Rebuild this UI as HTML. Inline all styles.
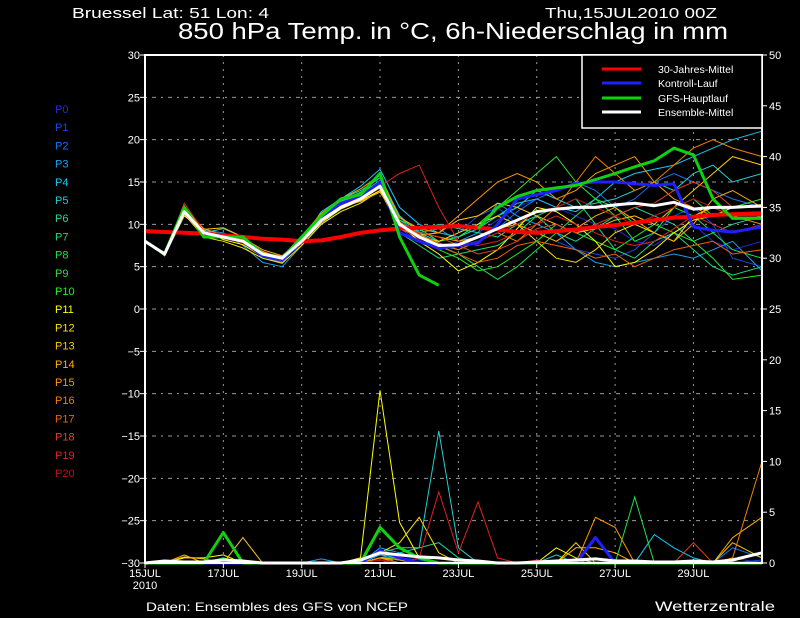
<!DOCTYPE html>
<html><head><meta charset="utf-8"><style>
html,body{margin:0;padding:0;background:#000;}
svg{display:block;font-family:"Liberation Sans",sans-serif;}
</style></head><body>
<svg id="chart" width="800" height="618" viewBox="0 0 800 618" xmlns="http://www.w3.org/2000/svg">
<rect x="0" y="0" width="800" height="618" fill="#000"/>
<text x="72" y="18" fill="#fff" font-size="15" textLength="197" lengthAdjust="spacingAndGlyphs">Bruessel  Lat: 51 Lon: 4</text>
<text x="545" y="18" fill="#fff" font-size="15" textLength="172" lengthAdjust="spacingAndGlyphs">Thu,15JUL2010 00Z</text>
<text x="178" y="39" fill="#fff" font-size="23" textLength="550" lengthAdjust="spacingAndGlyphs">850 hPa Temp. in °C, 6h-Niederschlag in mm</text>
<g id="grid"></g>
<g id="series"></g>
<g id="axes"></g>
<g id="legend"></g>
<g id="members"></g>
<text x="146" y="611" fill="#fff" font-size="12" textLength="262" lengthAdjust="spacingAndGlyphs">Daten: Ensembles des GFS von NCEP</text>
<text x="655" y="611" fill="#fff" font-size="14" textLength="120" lengthAdjust="spacingAndGlyphs">Wetterzentrale</text>
</svg>
<script>
const days = [0,0.5,1,1.5,2,2.5,3,3.5,4,4.5,5,5.5,6,6.5,7,7.5,8,8.5,9,9.5,10,10.5,11,11.5,12,12.5,13,13.5,14,14.5,15,15.75];
const dateLabels = ["15JUL","17JUL","19JUL","21JUL","23JUL","25JUL","27JUL","29JUL"];
const tempTicks = [30,25,20,15,10,5,0,-5,-10,-15,-20,-25,-30];
const precipTicks = [50,45,40,35,30,25,20,15,10,5,0];
const memberNames = ["P0","P1","P2","P3","P4","P5","P6","P7","P8","P9","P10","P11","P12","P13","P14","P15","P16","P17","P18","P19","P20"];
const memberColors = ["#2828d8","#1448f0","#1474f0","#14a0f0","#14c8f0","#20d0d0","#20d898","#20d878","#20e050","#30e030","#20f020","#ffff00","#ffe000","#ffc800","#ffb000","#ff9800","#f08000","#f06000","#e04020","#e02020","#c01010"];
const mean30 = [9.2,9.1,9,8.9,8.7,8.5,8.3,8.2,8,8.1,8.5,9,9.3,9.5,9.6,9.7,9.8,9.6,9.4,9.1,9,9.2,9.4,9.7,9.9,10.2,10.5,10.8,10.9,11.1,11.2,11.3];
const kontroll = [8,6.5,11.5,9,8.5,8,6.3,5.8,8,10.8,12.5,13.2,15,9,8,7.2,7.5,7.8,10,13,13.5,14,14.8,15,15,14.8,14.6,14.8,9.7,9.3,9.1,9.7];
const gfs = [8,6.5,12,8.5,8.5,8.5,6.5,6,8.5,11,13,13.5,16,8.5,4,2.8,null,9.5,12,13.3,14,14.3,14.6,15.3,16,16.8,17.5,19,18.2,13,10.7,10.7];
const ensMean = [8,6.5,11.5,9,8.5,8,6.5,6,8,10.5,12,13,14.5,10,8.5,7.5,7.6,8.5,9.5,10.5,11.5,11.8,12,12,12.3,12.5,12.2,12.6,11.8,12,12,12.2];
const m0=[8,6.3,11,9.2,8.8,7.8,6.2,5.5,8.2,10.8,12.5,13.5,14.8,9.5,8,7,8,9,10.5,12,13,12,11,10,9.5,8,7.5,9,10,8,7,8];
const m1=[8,6.5,12,9,8.5,8.2,6.8,6,7.5,10,12,13,15,10,8.5,8,9,11,12,10,9,8,7,6.5,6,7,9,11,12,10,6,5];
const m2=[8,6.6,11.5,8.8,8.3,8,6.5,6.2,8,11,12.5,13.8,15.5,11,9,7.5,7,8,9.5,11.5,13,14,15,14,12,13,15,16,15,14,13,12];
const m3=[8,6.4,11.2,9.3,9,7.5,5.5,5,7.5,10,11.5,12.5,14,10.5,9,9.5,8,9,12.5,11,10,9,7,5.5,5,5.5,6,6.5,6,7,8,4.5];
const m4=[8,6.5,11.8,9,9.5,8.5,6,5.5,8,11.5,13,14.5,16.5,12,10,9,8.5,10,11,12.5,13,12,11.5,13,15,16,16.5,17,18,19,20,21];
const m5=[8,6.6,11.5,9,8.5,8,6.2,6,8.5,11.2,13,14,15.5,11,9,8,8.5,9.5,11,12,14,13,12,12.5,13,14,15,14,16,17,15,16];
const m6=[8,6.5,11.6,9.1,8.7,8.1,6.6,6.1,8.3,10.9,12.7,13.6,15.2,10.8,9.2,10,9.5,9,8.5,10,11,9,8,9.5,11,12,11,10,8,9,10,11];
const m7=[8,6.4,11.4,8.9,8.4,7.9,6.4,5.9,8.1,10.6,12.3,13.1,14.6,9,7.5,6,6.5,7,7.5,9,11,12,13,10,7,6,8,9,7,5,4,5];
const m8=[8,6.5,11.5,9,8.6,8,6.4,6,8,10.5,12.2,13.2,14.8,9.8,8.7,7.5,6.5,5,3.5,5,7,9,11,13,11,8,9,12,11,9,7,6];
const m9=[8,6.7,12.2,9.2,8.6,8.2,6.7,6.2,8.4,11,12.8,13.8,15,10.5,9.5,8,8.5,10,12,14,16,18,15,13,12,10,11,12,13,11,12,13];
const m10=[8,6.5,11.5,9,8.5,8,6.5,6,8,10.5,12,13,14.5,10,8.5,7,6,4.5,5,6.5,8,10,9,8,7,8.5,10,9,8,6,3.5,4];
const m11=[8,6.3,11,9.3,8.2,7.6,6.2,5.8,7.8,10.2,11.8,12.8,14,10,8,6.5,4.5,5.5,7,9.5,12,11.5,10,8,5,5.5,7,9,10.5,11,12,12];
const m12=[8,6.5,11.2,8.5,8,7.2,6,5.4,7.5,10,11.5,12.5,14,9.5,8.5,8,9,10,11,10,8,6,5.5,7,9,10,9,8,11,12,11,11];
const m13=[8,6.6,11.6,9.4,9.6,8.5,6.6,6.2,8.2,10.8,12.6,13.4,14.8,9.8,8.7,9,10.5,11,12.5,12,11,10,9,9.5,10.5,11,10,12,14,16,18,17];
const m14=[8,6.5,11.5,8.8,8.4,8.4,7,6.3,8.3,10.7,12.1,12.7,13.8,10.2,9,8.5,8,8.5,9.5,10,9,8,9.5,11,12,10.5,9,8,10,13,14,12];
const m15=[8,6.5,11.8,9.5,8.7,8.3,6.8,6,8.6,11.3,13,14.2,15.8,10.8,9.5,9,11,13,15,16,15,13,14,16,17,18,15,13,12,11,11,10];
const m16=[8,6.4,11.3,9,8.6,8,6.4,5.7,7.8,10.4,11.9,12.9,14.3,10.3,8.8,7.8,7,8,9,8,10,12,15,18,16,14,15,17,19,20,19,18];
const m17=[8,6.6,11.7,9.1,8.8,8.1,6.5,6,8,10.6,12.4,13.3,14.6,9.6,8.4,7.4,6.5,5.5,6,7.5,8,7.5,7,6,6.5,5,6,7,7.5,8,6.5,7];
const m18=[8,6.5,11.5,9,8.5,8,6.3,5.8,8,10.5,12,13,14.3,10,9,8.5,7.5,6.5,7,8,9.5,10,9,10,11,12,12.5,14,15,14,12,12];
const m19=[8,6.4,12.5,9.2,8.4,7.8,6.2,5.6,7.9,10.3,12.1,13,14.5,16,17,12,8,7.5,8,9,10,11,10,9,8,7.5,8,9.5,11,10,9,10];
const m20=[8,6.5,11.4,8.9,8.5,7.9,6.4,5.8,8,10.6,12.3,13.2,14.7,10,8.2,7,7.5,8,9,10,11.5,12,13,12,11,10,11,12,13,12,11,11];
const memberTemps=[m0,m1,m2,m3,m4,m5,m6,m7,m8,m9,m10,m11,m12,m13,m14,m15,m16,m17,m18,m19,m20];
// precipitation (mm / 6h), same time steps
const p0=[0,0.3,0,0,0.5,0,0,0,0,0,0,0.5,1,0.5,0,0,0,0,0,0,0,0,0,0,0,0,0,0,0,0,0.5,0];
const p1=[0,0,0,0,0,0,0,0,0,0,0,0.3,0.8,0.5,0.3,0,0,0,0,0,0,0,0,0,0,0,0,0,0,0,0,0.3];
const p2=[0,0,0,0,0,0,0,0,0,0,0,0,0.5,0.3,0,0,0,0,0,0,0,0,0,0,0,0,0,0,0,0,1.5,0.5];
const p3=[0,0,0,0,0,2.5,0,0,0,0.4,0,0,1.5,1,0.5,0,0,0,0,0,0,0,0,0,0,0,0,0,0,0,0,0];
const p4=[0,0,0,0,0,0,0,0,0,0,0,0,0.8,0.5,0,0,0,0,0,0,0,0,0,0,0,0,2.8,1.5,0.5,0,0,0];
const p5=[0,0,0,0,0,0,0,0,0,0,0,0,0.5,1,1.5,13,1.5,0,0,0,0,0.8,0,0,0,0,0,0,0,0,0,0];
const p6=[0,0,0,0,0,0,0,0,0,0,0,0,1,1.5,1.5,2,0.5,0,0,0,0,0,0,0,0,0,0,0,0,0,0,0];
const p7=[0,0,0,0,0.5,0,0,0,0,0,0,0,0.5,0.5,0,0,0,0,0,0,0,0,0,0,0,0,0,0,0,0,0,0];
const p8=[0,0,0,0,0.5,0,0,0,0,0,0,0,0.5,0,0,0,0,0,0,0,0,0,0,0.5,0,6.5,0,0,0,0,0,0];
const p9=[0,0,0,0,0,0,0,0,0,0,0,0,0.5,0.5,0,0,0,0,0,0,0,0,0,0,0,0,0,0,0,0,0,0];
const p10=[0,0,0,0,0,0,0,0,0,0,0,0,1,0.5,0,0,0,0,0,0,0,0,0,0,0,0,0,0,0,0,0,0];
const p11=[0,0,0.5,0.5,0.8,0,0,0,0,0,0,0.5,17,4,0.5,0,0,0,0,0,0,1.5,0.5,0,0,0,0,0,0,0,0,0];
const p12=[0,0,0,0,0,0,0,0,0,0,0,0,1,2,4.5,1,0,0,0,0,0,0,2,0,0,0,0,0,0,0,0,0];
const p13=[0,0,0.6,0.4,0,0,0,0,0,0,0,0,0.5,0.3,0,0,0,0,0,0,0,0,0,0,0,0,0,0,0,0,2,0.5];
const p14=[0,0,0.8,0,0,2.5,0,0,0,0,0,0,0.5,0,0,0,0,0,0,0,0,0,1.5,1.5,1,0,0,0,0,0,2.5,4.5];
const p15=[0,0,0,0,0,0,0,0,0,0,0,0,0.5,0,0,0,0,0,0,0,0,0,0,4.5,3.5,0,0,0,0,0,0,0];
const p16=[0,0,0,0,0,0,0,0,0,0,0,0,0,0.5,0,0,0,0,0,0,0,0,0,0,0,0,0,0,0,0,0.5,10];
const p17=[0,0,0,0,0,0,0,0,0,0,0,0,0.3,0,0,0,0,0,0,0,0,0,0,0,0,0,0,0,0,0,0,0];
const p18=[0,0,0,0,0,0,0,0,0,0,0,0,0,0.5,0,0,0,0,0,0,0,0,0,0,0,0,0,0,2,0,0,0];
const p19=[0,0,0,0,0,0,0,0,0,0,0,0,0,0,0.5,7,1,6,0.5,0,0.3,0,0,0,0,0,0,0,0,0,0,0];
const p20=[0,0,0,0,0,0,0,0,0,0,0,0,0.3,0,0,0,0,0,0,0,0,0,0,0,0,0,0,0,0,0,0,0];
const memberPrecip=[p0,p1,p2,p3,p4,p5,p6,p7,p8,p9,p10,p11,p12,p13,p14,p15,p16,p17,p18,p19,p20];
const kontrollPrecip=[0,0,0,0,0,0,0,0,0,0,0,0,1.2,0.5,0,0,0,0,0,0,0,0,0,2.5,0,0,0,0,0,0,0,0];
const gfsPrecip=[0,0,0,0,3,0,0,0,0,0,0,0,3.5,1.5,0.5,0,0,0,0,0,0,0,0,0,0,0,0,0,0,0,0,0];
const meanPrecip=[0,0.2,0.1,0.1,0.3,0.2,0,0,0,0,0,0.3,1,0.8,0.6,0.5,0.3,0.2,0,0,0.1,0.2,0.3,0.4,0.2,0.2,0.1,0.1,0.2,0.1,0.3,1];

const NS="http://www.w3.org/2000/svg";
const X0=145,X1=762,Y0=55,Y1=563;
function xScale(d){return X0+d*(X1-X0)/15.75;}
function yTemp(t){return Y1-(t+30)*(Y1-Y0)/60;}
function yPrec(p){return Y1-p*(Y1-Y0)/50;}
function mk(tag,attrs,parent){const e=document.createElementNS(NS,tag);for(const k in attrs)e.setAttribute(k,attrs[k]);parent.appendChild(e);return e;}
function pathD(vals,yf){let d="",pen=false;vals.forEach((v,i)=>{if(v===null){pen=false;return;}const x=xScale(days[i]).toFixed(1),y=yf(v).toFixed(1);d+=(pen?"L":"M")+x+" "+y;pen=true;});return d;}

const grid=document.getElementById('grid');
tempTicks.forEach(t=>{
  if(t===30||t===-30)return;
  const l=mk('line',{x1:X0,x2:X1,y1:yTemp(t),y2:yTemp(t),stroke:'#9a9a9a','stroke-width':1,'stroke-dasharray':'2 5 4 5'},grid);
  
  
});
dateLabels.forEach((lab,i)=>{
  if(i===0)return;
  const x=xScale(i*2);
  const l=mk('line',{x1:x,x2:x,y1:Y0,y2:Y1,stroke:'#9a9a9a','stroke-width':1,'stroke-dasharray':'2 5'},grid);
  
  
});

const series=document.getElementById('series');
memberPrecip.forEach((arr,i)=>{
  const p=mk('path',{d:pathD(arr,yPrec),fill:'none',stroke:memberColors[i],'stroke-width':1},series);
  
  
});
memberTemps.forEach((arr,i)=>{
  const p=mk('path',{d:pathD(arr,yTemp),fill:'none',stroke:memberColors[i],'stroke-width':1},series);
  
  
});
const big=[[mean30,yTemp,'#ff0000',4,'temp-30-year-mean'],[kontrollPrecip,yPrec,'#2020ff',3,'precip-kontroll'],[gfsPrecip,yPrec,'#10d010',3,'precip-gfs'],[meanPrecip,yPrec,'#ffffff',3,'precip-ensemble-mean'],[kontroll,yTemp,'#2020ff',3,'temp-kontroll'],[gfs,yTemp,'#10d010',3,'temp-gfs'],[ensMean,yTemp,'#ffffff',3,'temp-ensemble-mean']];
big.forEach(b=>{
  const p=mk('path',{d:pathD(b[0],b[1]),fill:'none',stroke:b[2],'stroke-width':b[3],'stroke-linejoin':'round'},series);
  
  
});

const axes=document.getElementById('axes');
const frame=mk('rect',{x:X0,y:Y0,width:X1-X0,height:Y1-Y0,fill:'none',stroke:'#fff','stroke-width':2},axes);


tempTicks.forEach(t=>{
  const y=yTemp(t);
  mk('line',{x1:X0-5,x2:X0,y1:y,y2:y,stroke:'#fff','stroke-width':1},axes);
  const tx=mk('text',{x:X0-5,y:y+4,fill:'#fff','font-size':11,'text-anchor':'end'},axes);
  tx.textContent=String(t).replace('-','\u2212');
  
  
});
precipTicks.forEach(p=>{
  const y=yPrec(p);
  mk('line',{x1:X1,x2:X1+5,y1:y,y2:y,stroke:'#fff','stroke-width':1},axes);
  const tx=mk('text',{x:X1+7,y:y+4,fill:'#fff','font-size':11},axes);
  tx.textContent=String(p);
  
  
});
dateLabels.forEach((lab,i)=>{
  const x=xScale(i*2);
  mk('line',{x1:x,x2:x,y1:Y1,y2:Y1+5,stroke:'#fff','stroke-width':1},axes);
  const tx=mk('text',{x:x,y:577,fill:'#fff','font-size':11,'text-anchor':'middle'},axes);
  tx.textContent=lab;
  
  
});
const yr=mk('text',{x:X0,y:589,fill:'#fff','font-size':11,'text-anchor':'middle'},axes);
yr.textContent='2010';



const legend=document.getElementById('legend');
const lb=mk('rect',{x:582,y:55,width:180,height:73,fill:'#000',stroke:'#fff','stroke-width':1.5},legend);


const legItems=[['30-Jahres-Mittel','#ff0000',69],['Kontroll-Lauf','#2020ff',83],['GFS-Hauptlauf','#10d010',98],['Ensemble-Mittel','#ffffff',112]];
legItems.forEach(it=>{
  const g=mk('g',{},legend);
  
  
  mk('line',{x1:602,x2:641,y1:it[2],y2:it[2],stroke:it[1],'stroke-width':3},g);
  const t=mk('text',{x:658,y:it[2]+4,fill:'#fff','font-size':10.5},g);
  t.textContent=it[0];
});

const mg=document.getElementById('members');
memberNames.forEach((n,i)=>{
  const t=mk('text',{x:55,y:113+i*18.2,fill:memberColors[i],'font-size':11},mg);
  t.textContent=n;
  
  
});
</script>
</body></html>
